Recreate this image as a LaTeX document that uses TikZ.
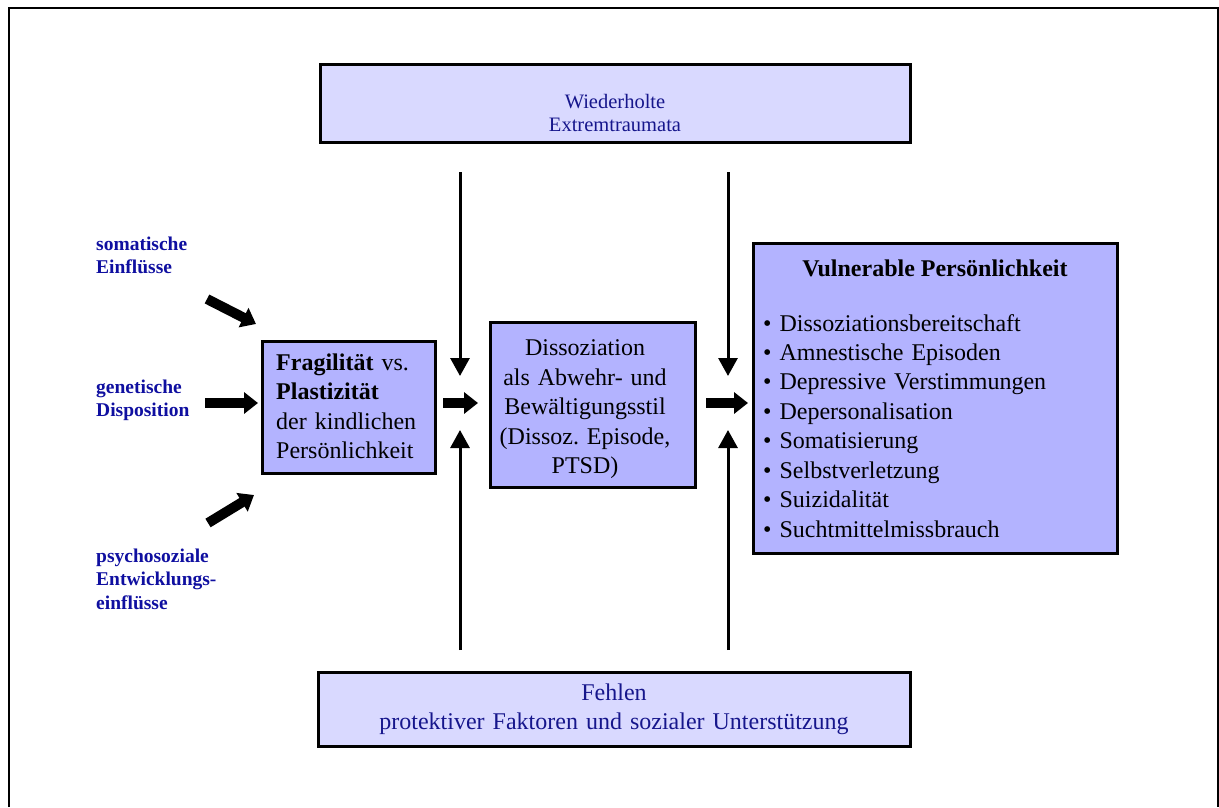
\documentclass[tikz,border=0pt]{standalone}
\usepackage{fontspec}
\setmainfont{Liberation Serif}
\usetikzlibrary{arrows.meta}
\definecolor{lightlav}{RGB}{217,217,255}
\definecolor{midlav}{RGB}{179,179,255}
\definecolor{boxblue}{RGB}{22,22,140}
\definecolor{labelblue}{RGB}{15,15,160}
\frenchspacing
\tikzset{
  lightbox/.style={draw=black, line width=3pt, fill=lightlav, rectangle, inner sep=0pt},
  midbox/.style={draw=black, line width=3pt, fill=midlav, rectangle, inner sep=0pt},
  bigtext/.style={font=\fontsize{24}{29.6}\selectfont, inner sep=0pt},
  toptext/.style={font=\fontsize{20.5}{23}\selectfont, inner sep=0pt, text=boxblue},
  bottext/.style={font=\fontsize{24}{29}\selectfont, inner sep=0pt, text=boxblue},
  lbl/.style={font=\bfseries\fontsize{19.5}{23.3}\selectfont, inner sep=0pt, text=labelblue, text width=150pt, align=left, anchor=base west},
  thickarrow/.style={line width=10pt, -{Triangle[length=14pt,width=21pt]}},
  thinarrow/.style={line width=3pt, -{Triangle[length=18pt,width=19pt]}}
}
\begin{document}
\begin{tikzpicture}[x=1pt,y=-1pt]
\useasboundingbox (0,0) rectangle (1219,807);
% outer frame (open at the bottom)
\draw[line width=2pt] (8.5,807) -- (8.5,7.5) -- (1217.5,7.5) -- (1217.5,807);

% boxes
\node[lightbox, minimum width=590pt, minimum height=78pt] (top) at (615,103) {};
\node[lightbox, minimum width=592pt, minimum height=74pt] (bot) at (614,709) {};
\node[midbox, minimum width=173pt, minimum height=132pt] (frag) at (348.5,407) {};
\node[midbox, minimum width=205pt, minimum height=165pt] (diss) at (592.5,404.5) {};
\node[midbox, minimum width=364pt, minimum height=310pt] (vul) at (935,398) {};

% box texts
\node[toptext, anchor=base, text width=400pt, align=center] (toptxt) at (615,108) {Wiederholte\\Extremtraumata};
\node[bottext, anchor=base, text width=560pt, align=center] (bottxt) at (614,700.5) {Fehlen\\protektiver Faktoren und sozialer Unterstützung};
\node[bigtext, anchor=base west, text width=160pt, align=left] (fragtxt) at (276,370) {\textbf{Fragilität} vs.\\\textbf{Plastizität}\\der kindlichen\\Persönlichkeit};
\node[bigtext, anchor=base, text width=200pt, align=center] (disstxt) at (585,355.5) {Dissoziation\\als Abwehr- und\\Bewältigungsstil\\(Dissoz. Episode,\\PTSD)};
\node[bigtext, anchor=base, font=\bfseries\fontsize{24}{29.6}\selectfont] (vultitle) at (935,276) {Vulnerable Persönlichkeit};
\node[bigtext, anchor=base west, text width=350pt, align=left, font=\fontsize{24}{29.45}\selectfont] (vullist) at (763,331) {• Dissoziationsbereitschaft\\• Amnestische Episoden\\• Depressive Verstimmungen\\• Depersonalisation\\• Somatisierung\\• Selbstverletzung\\• Suizidalität\\• Suchtmittelmissbrauch};

% left labels
\node[lbl] (lsom) at (96,250.5) {somatische\\Einflüsse};
\node[lbl] (lgen) at (96,393.5) {genetische\\Disposition};
\node[lbl] (lpsy) at (96,562.5) {psychosoziale\\Entwicklungs-\\einflüsse};

% arrow end points
\coordinate (a1s) at (207,299); \coordinate (a1e) at (256,324);
\coordinate (a2s) at (205,403); \coordinate (a2e) at (258,403);
\coordinate (a3s) at (208,523); \coordinate (a3e) at (254,495);
\coordinate (m1s) at (443,403); \coordinate (m1e) at (478,403);
\coordinate (m2s) at (706,403); \coordinate (m2e) at (748,403);
\coordinate (t1s) at (460,172); \coordinate (t1e) at (460,376);
\coordinate (t2s) at (728,172); \coordinate (t2e) at (728,376);
\coordinate (b1s) at (460,650); \coordinate (b1e) at (460,430);
\coordinate (b2s) at (728,650); \coordinate (b2e) at (728,430);

% thick arrows
\draw[thickarrow] (a1s) -- (a1e);
\draw[thickarrow] (a2s) -- (a2e);
\draw[thickarrow] (a3s) -- (a3e);
\draw[thickarrow] (m1s) -- (m1e);
\draw[thickarrow] (m2s) -- (m2e);
% thin arrows
\draw[thinarrow] (t1s) -- (t1e);
\draw[thinarrow] (t2s) -- (t2e);
\draw[thinarrow] (b1s) -- (b1e);
\draw[thinarrow] (b2s) -- (b2e);
\end{tikzpicture}
\end{document}
